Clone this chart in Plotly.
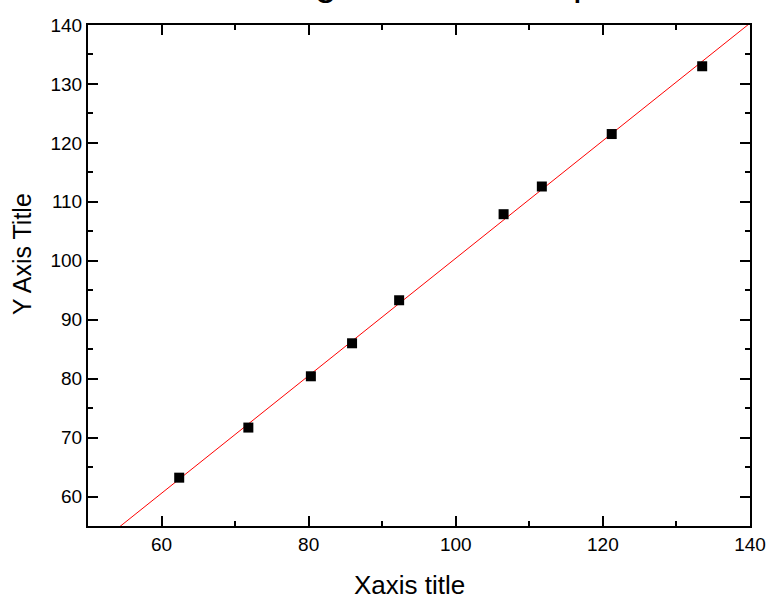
import numpy as np
import plotly.graph_objects as go

x_data = [62.4, 71.8, 80.3, 85.9, 92.3, 106.5, 111.7, 121.2, 133.5]
y_data = [63.2, 71.7, 80.4, 86.0, 93.3, 107.9, 112.6, 121.5, 133.0]
title_text = "Linear Regression Example"
x_title = "Xaxis title"
y_title = "Y Axis Title"

slope, intercept = np.polyfit(x_data, y_data, 1)
fit_x = [50, 140]
fit_y = [slope * v + intercept for v in fit_x]

FONT = "Liberation Sans, Arial"

fig = go.Figure()
fig.add_trace(go.Scatter(x=fit_x, y=fit_y, mode="lines",
                         line=dict(color="red", width=1), showlegend=False))
fig.add_trace(go.Scatter(x=x_data, y=y_data, mode="markers",
                         marker=dict(symbol="square", size=10, color="black",
                                     line=dict(width=0)), showlegend=False))

axis_common = dict(
    showgrid=False, zeroline=False, showline=True, linecolor="black", linewidth=2,
    mirror="ticks", ticks="inside", ticklen=10, tickwidth=2, tickcolor="black",
    tickfont=dict(family=FONT, size=19, color="black"), automargin=False,
)
fig.update_xaxes(range=[50, 140], dtick=20, tick0=0,
                 minor=dict(ticks="inside", ticklen=5, tickwidth=2, tickcolor="black", dtick=10, tick0=0),
                 **axis_common)
fig.update_yaxes(range=[55, 140], dtick=10, tick0=0,
                 minor=dict(ticks="inside", ticklen=5, tickwidth=2, tickcolor="black", dtick=5, tick0=0),
                 **axis_common)

fig.add_annotation(text=title_text, xref="paper", yref="paper", x=0.45, y=1,
                   xanchor="center", yanchor="bottom", yshift=20, showarrow=False,
                   font=dict(family=FONT, size=39, color="black"))
fig.add_annotation(text=x_title, xref="paper", yref="paper", x=0.4864, y=0,
                   xanchor="center", yanchor="middle", yshift=-59, showarrow=False,
                   font=dict(family=FONT, size=26, color="black"))
fig.add_annotation(text=y_title, xref="paper", yref="paper", x=0, y=0.5429,
                   xanchor="center", yanchor="middle", xshift=-66, textangle=-90,
                   showarrow=False, font=dict(family=FONT, size=25, color="black"))

fig.update_layout(width=770, height=596, margin=dict(l=88, r=20, t=25, b=70),
                  plot_bgcolor="white", paper_bgcolor="white", hovermode=False)
fig.write_html("out.html", config={"displayModeBar": False, "staticPlot": True},
               post_script="document.body.style.margin='0';document.body.style.padding='0';document.body.style.overflow='hidden';")
